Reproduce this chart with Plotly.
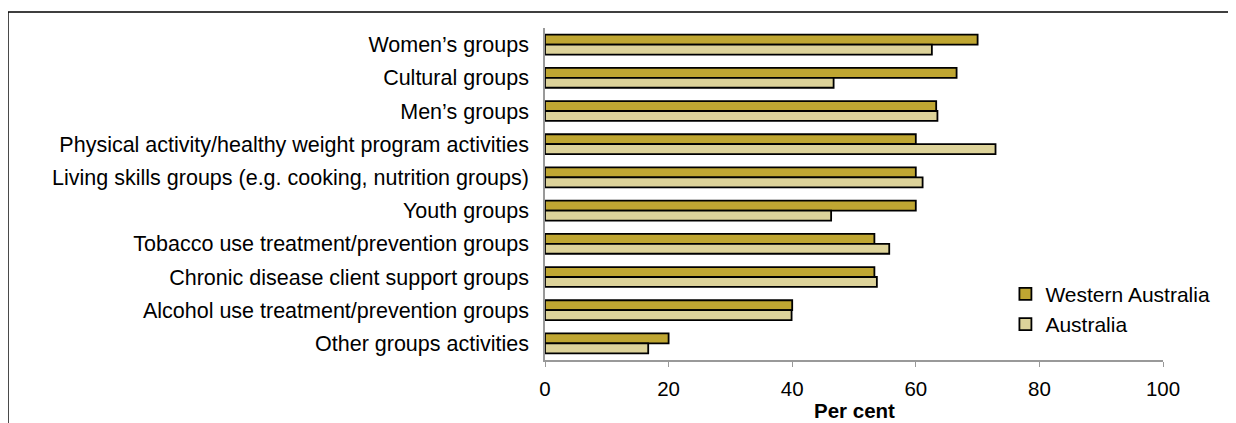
import plotly.graph_objects as go

categories = [
    "Women’s groups",
    "Cultural groups",
    "Men’s groups",
    "Physical activity/healthy weight program activities",
    "Living skills groups (e.g. cooking, nutrition groups)",
    "Youth groups",
    "Tobacco use treatment/prevention groups",
    "Chronic disease client support groups",
    "Alcohol use treatment/prevention groups",
    "Other groups activities",
]
western_australia = [70.0, 66.6, 63.3, 60.0, 60.0, 60.0, 53.3, 53.3, 40.0, 20.0]
australia = [62.6, 46.7, 63.5, 72.9, 61.1, 46.3, 55.7, 53.7, 39.9, 16.7]
x_ticks = [0, 20, 40, 60, 80, 100]
x_title = "Per cent"

FONT = "Liberation Sans, Arial, sans-serif"

fig = go.Figure()
fig.add_trace(go.Bar(
    y=categories, x=western_australia, orientation="h", name="Western Australia",
    marker=dict(color="#BFA632", line=dict(color="black", width=1.8)),
))
fig.add_trace(go.Bar(
    y=categories, x=australia, orientation="h", name="Australia",
    marker=dict(color="#DDD39A", line=dict(color="black", width=1.8)),
))

fig.update_layout(
    width=1228, height=415,
    margin=dict(l=537, r=73, t=20, b=63),
    barmode="group", bargap=0.4, bargroupgap=0,
    plot_bgcolor="white", paper_bgcolor="white",
    font=dict(family=FONT, size=21, color="black"),
    showlegend=True,
    legend=dict(x=0.745, y=0.26, xanchor="left", yanchor="top",
                bgcolor="rgba(0,0,0,0)", font=dict(size=21),
                itemwidth=30, tracegroupgap=0),
    xaxis=dict(range=[0, 100], tickvals=x_ticks, showgrid=False, zeroline=False,
               showline=True, linecolor="#999999", linewidth=1.5,
               ticks="outside", ticklen=5, tickcolor="#999999",
               tickfont=dict(size=20.5), ticklabelstandoff=5, automargin=False),
    yaxis=dict(autorange="reversed", showgrid=False, zeroline=False,
               showline=True, linecolor="#999999", linewidth=1.5, automargin=False,
               ticks="", ticklabelstandoff=10, tickfont=dict(size=21.5)),
    annotations=[dict(text=f"<b>{x_title}</b>", xref="paper", yref="paper",
                      x=0.5, y=-0.153, xanchor="center", yanchor="middle",
                      showarrow=False, font=dict(size=20.5))],
    shapes=[dict(type="rect", xref="paper", yref="paper",
                 x0=-0.869, x1=1.5, y0=-0.5, y1=1.048,
                 line=dict(color="black", width=1.5), fillcolor="rgba(0,0,0,0)")],
)

fig.write_html("out.html")
